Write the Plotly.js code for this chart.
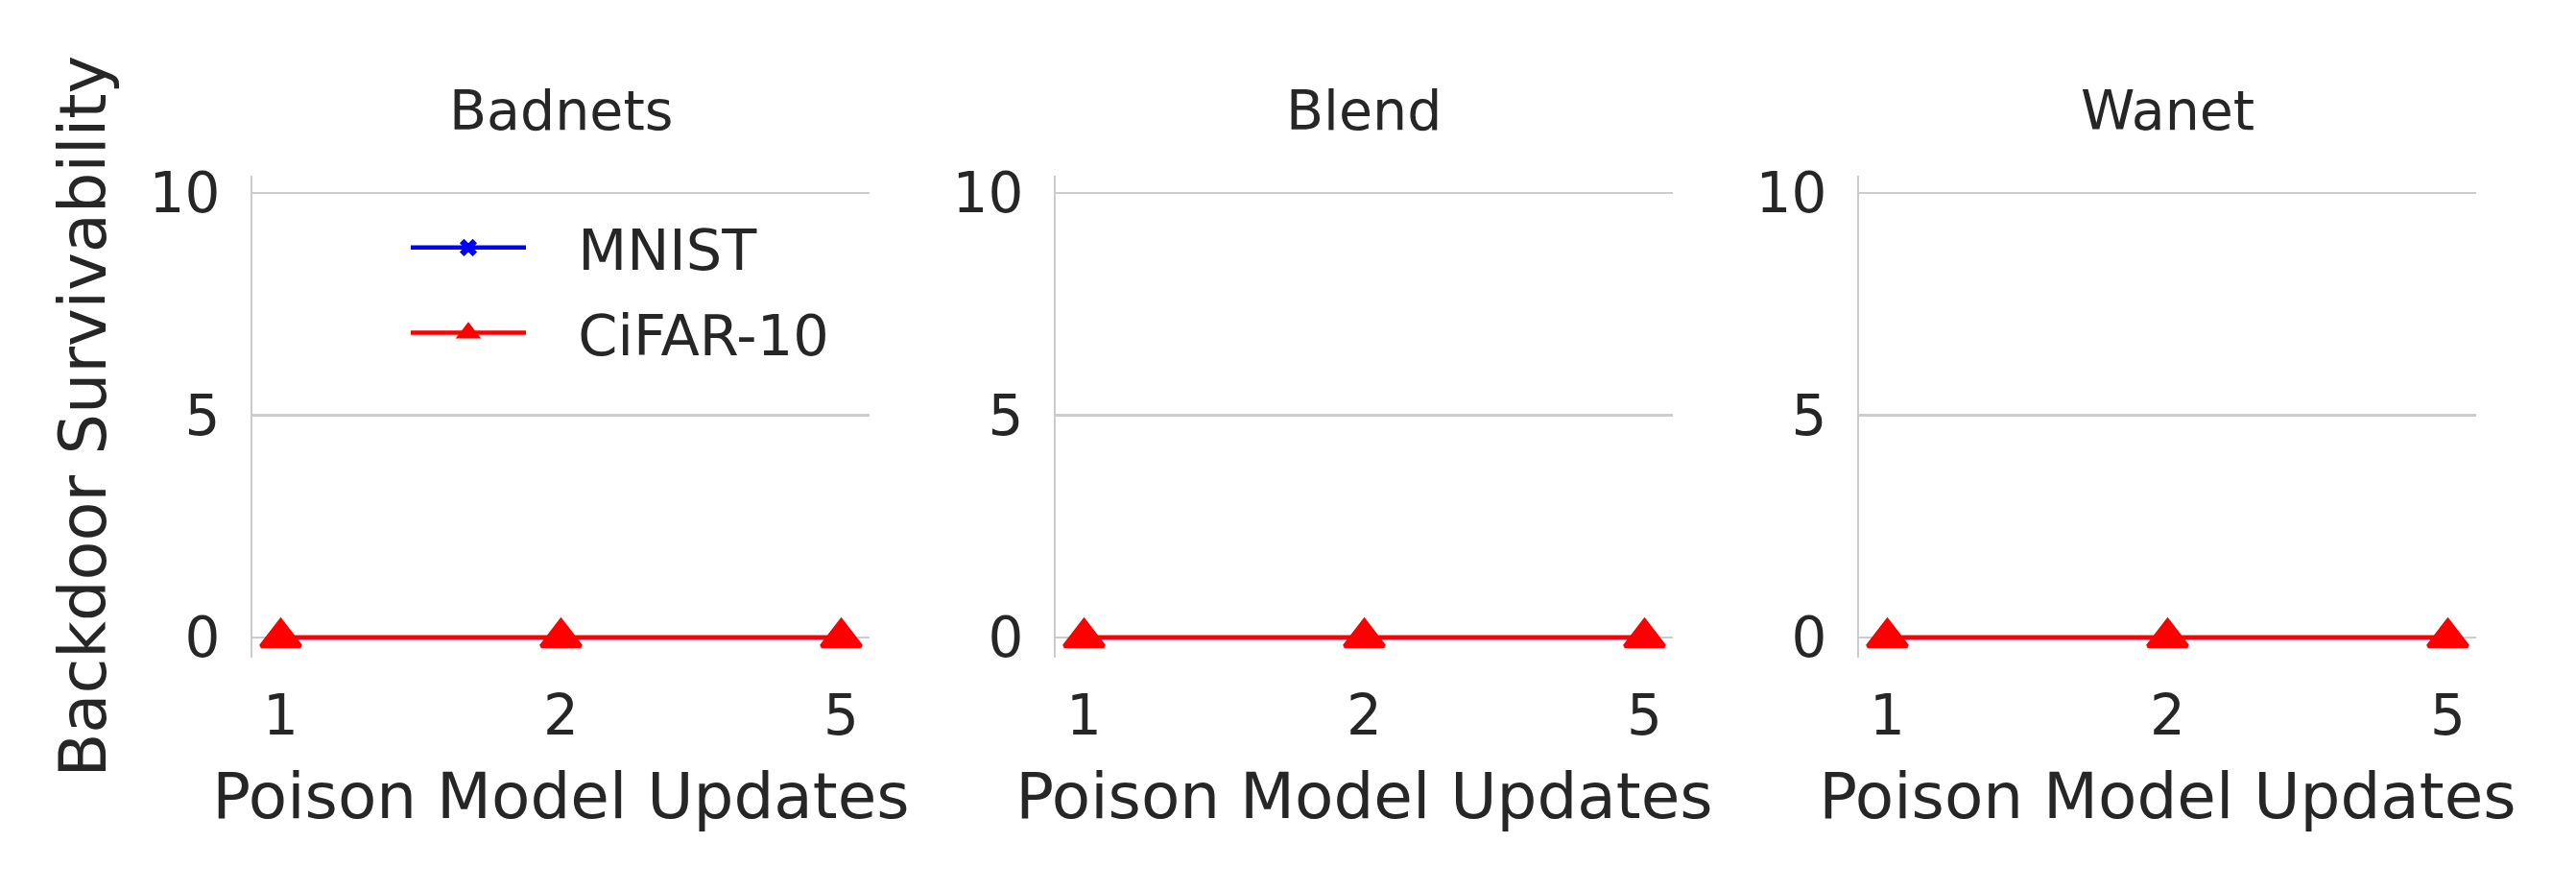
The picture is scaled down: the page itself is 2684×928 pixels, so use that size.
<!DOCTYPE html>
<html>
<head>
<meta charset="utf-8">
<script src="https://cdn.plot.ly/plotly-3.0.1.min.js"></script>
<style>
  html, body { margin: 0; padding: 0; background: #fff; }
  #chart { width: 2684px; height: 928px; }
</style>
</head>
<body>
<div id="chart"></div>
<script>
// survivability of the backdoor vs. number of poisoned updates
const attacks = ["Badnets", "Blend", "Wanet"];
const updates = ["1", "2", "5"];
const mnist = [
  [0, 0, 0],   // Badnets
  [0, 0, 0],   // Blend
  [0, 0, 0],   // Wanet
];
const cifar = [
  [0, 0, 0],
  [0, 0, 0],
  [0, 0, 0],
];
const yTicks = [0, 5, 10];

const INK = "#262626", GRID = "#cccccc", FONT = "DejaVu Sans, sans-serif";
const W = 2684, H = 928;
// plot boxes measured in pixels from the reference
const xDom = [[263.3, 905.7], [1100.3, 1742.7], [1937.3, 2579.7]];
const yDom = [182.7, 684.7];
const PAD = "\u00a0\u00a0\u2009";   // gap between legend line and label

const data = [];
const layout = {
  width: W, height: H,
  margin: { l: 0, r: 0, t: 0, b: 0 },
  paper_bgcolor: "#fff", plot_bgcolor: "#fff",
  font: { family: FONT, color: INK, size: 58 },
  showlegend: true,
  legend: {
    x: 423 / W, y: 1 - 213 / H, xanchor: "left", yanchor: "top",
    bgcolor: "rgba(0,0,0,0)", borderwidth: 0,
    font: { size: 59, color: INK }, itemwidth: 120,
    tracegroupgap: 9,
  },
  annotations: [],
};

attacks.forEach((name, i) => {
  const n = i === 0 ? "" : String(i + 1);
  data.push({
    x: updates, y: mnist[i], xaxis: "x" + n, yaxis: "y" + n,
    mode: "lines+markers", name: PAD + "MNIST", legendgroup: "mnist",
    showlegend: i === 0,
    line: { color: "blue", width: 4.5 },
    marker: { symbol: "x", size: 20, color: "blue", line: { width: 0 } },
  });
  data.push({
    x: updates, y: cifar[i], xaxis: "x" + n, yaxis: "y" + n,
    mode: "lines+markers", name: PAD + "CiFAR-10", legendgroup: "cifar",
    showlegend: i === 0,
    line: { color: "red", width: 4.5 },
    marker: { symbol: "triangle-up", size: 36, color: "red", line: { color: "red", width: 4 } },
  });
  layout["xaxis" + n] = {
    domain: [xDom[i][0] / W, xDom[i][1] / W], anchor: "y" + n,
    type: "category", range: [-0.1, 2.1], showgrid: false, showline: false,
    zeroline: false, ticks: "", ticklabelstandoff: 21,
    tickfont: { size: 58, color: INK },
    title: { text: "Poison Model Updates", font: { size: 66, color: INK }, standoff: 28 },
    automargin: false, fixedrange: true,
  };
  layout["yaxis" + n] = {
    domain: [1 - yDom[1] / H, 1 - yDom[0] / H], anchor: "x" + n,
    range: [-0.447, 10.395], tickvals: yTicks, showgrid: true,
    gridcolor: GRID, gridwidth: 2.3, zeroline: false,
    showline: true, linecolor: GRID, linewidth: 2.3, ticks: "",
    ticklabelstandoff: 20, tickfont: { size: 58, color: INK },
    title: i === 0 ? { text: "Backdoor Survivability", font: { size: 67, color: INK }, standoff: 23 } : undefined,
    automargin: false, fixedrange: true,
  };
  layout.annotations.push({
    text: name, xref: "paper", yref: "paper",
    x: (xDom[i][0] + xDom[i][1]) / 2 / W, y: 1 - 115 / H,
    xanchor: "center", yanchor: "middle", showarrow: false,
    font: { size: 57, color: INK },
  });
});

Plotly.newPlot("chart", data, layout, { displayModeBar: false, staticPlot: true });
</script>
</body>
</html>
